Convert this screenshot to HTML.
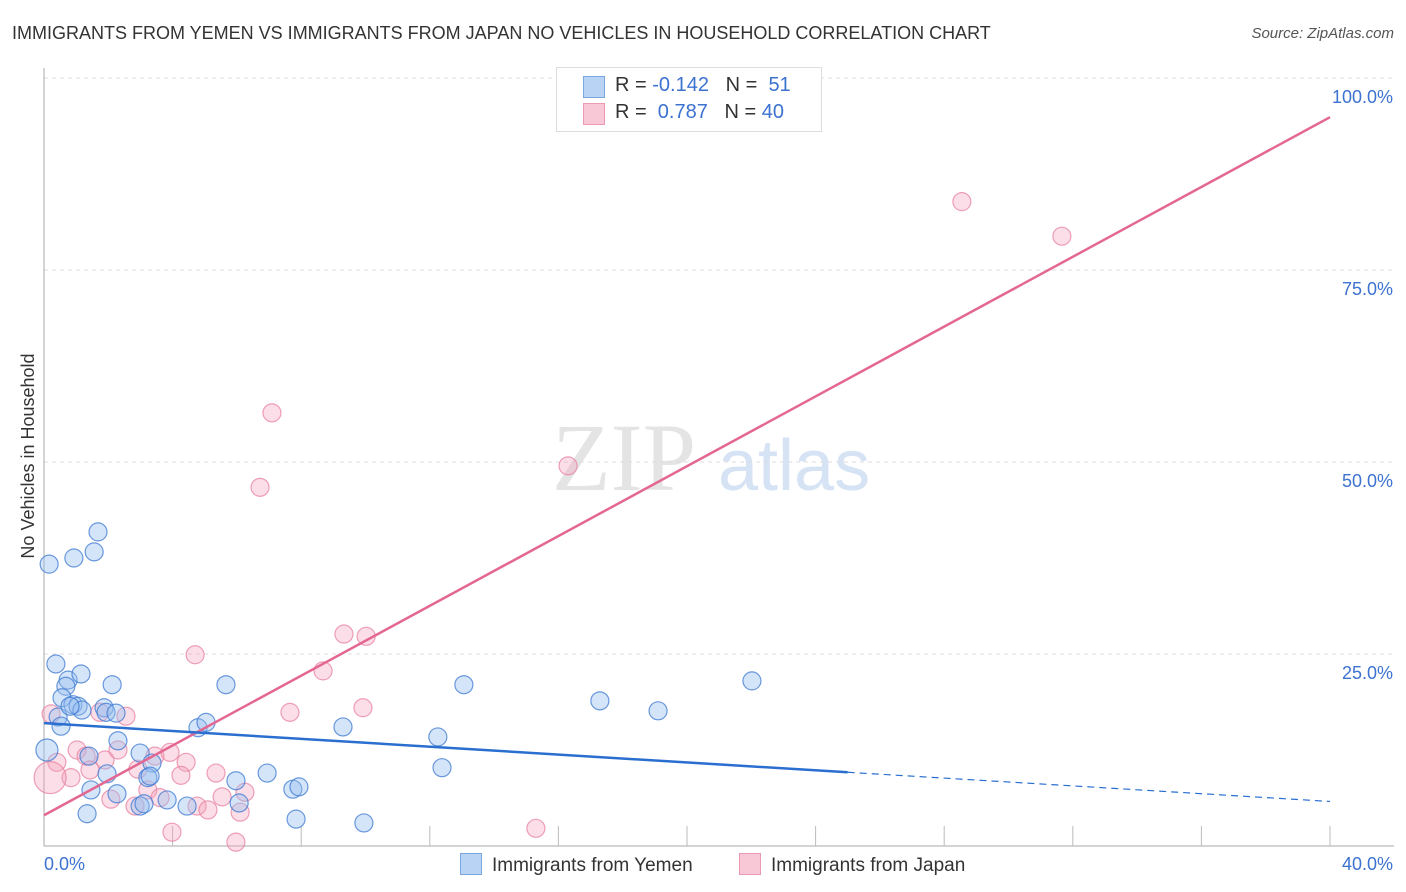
<!DOCTYPE html>
<html><head><meta charset="utf-8">
<style>
body{margin:0;background:#fff;font-family:"Liberation Sans",sans-serif;}
#wrap{position:relative;width:1406px;height:892px;overflow:hidden;}
.t{position:absolute;white-space:nowrap;}
</style></head>
<body>
<div id="wrap">
<div class="t" style="left:12px;top:23px;font-size:18px;color:#333;">IMMIGRANTS FROM YEMEN VS IMMIGRANTS FROM JAPAN NO VEHICLES IN HOUSEHOLD CORRELATION CHART</div>
<div class="t" style="right:12px;top:25px;font-size:15px;color:#555;font-style:italic;">Source: ZipAtlas.com</div>
<svg id="svg" width="1406" height="892" style="position:absolute;left:0;top:0"></svg>
</div>
<script>
const xTicks=[0,4,8,12,16,20,24,28,32,36,40];
const yTicks=[25,50,75,100];
const yTickLabels=["25.0%","50.0%","75.0%","100.0%"];
const xEndLabels=["0.0%","40.0%"];
const yemenX=[0.16,0.93,1.56,1.68,0.37,0.75,0.68,1.15,0.56,2.12,0.90,1.06,1.18,0.44,1.87,1.93,2.24,0.53,0.09,1.40,2.30,2.99,3.36,1.96,3.23,3.30,1.46,2.27,2.99,3.11,3.83,1.34,4.45,4.79,5.04,5.66,5.97,6.07,6.94,7.74,7.93,7.84,9.30,9.95,12.25,12.38,13.06,17.29,19.10,22.02,0.81];
const yemenY=[36.7,37.5,38.3,40.9,23.7,21.6,20.8,22.4,19.3,21.0,18.4,18.2,17.7,16.8,18.0,17.4,17.3,15.6,12.5,11.7,13.7,12.1,10.8,9.4,8.9,9.1,7.3,6.8,5.2,5.5,6.0,4.2,5.2,15.4,16.1,21.0,8.5,5.6,9.5,7.4,7.7,3.5,15.5,3.0,14.2,10.2,21.0,18.9,17.6,21.5,18.2];
const japanX=[28.55,31.66,7.09,6.72,16.30,9.33,10.02,4.70,8.68,7.65,9.92,0.22,1.74,2.55,1.03,1.31,0.40,0.84,1.43,0.19,1.90,2.30,3.45,3.92,4.42,2.92,4.26,5.35,3.23,3.61,2.08,2.83,5.54,6.25,4.76,5.10,6.10,3.98,5.97,15.30];
const japanY=[83.9,79.4,56.4,46.7,49.5,27.6,27.3,24.9,22.8,17.4,18.0,17.2,17.4,16.9,12.5,11.7,10.9,8.9,9.9,8.9,11.2,12.5,11.7,12.2,10.9,10.0,9.2,9.5,7.3,6.3,6.1,5.2,6.4,7.0,5.2,4.7,4.4,1.8,0.5,2.3];
const yemenTrend=[16.0,9.6,5.8]; // at x=0, 25, 40
const yemenTrendX=[0,25,40];
const japanTrend=[4.0,94.9];
const japanTrendX=[0,40];

const X=v=>44+v/40*1286, Y=v=>846-v/100*768;
const svg=document.getElementById('svg');
const NS='http://www.w3.org/2000/svg';
function mk(tag,attrs,parent){const e=document.createElementNS(NS,tag);for(const k in attrs)e.setAttribute(k,attrs[k]);(parent||svg).appendChild(e);return e;}
// watermark
let w=mk('text',{x:552,y:490,'font-size':96,'font-family':'Liberation Serif,serif',fill:'#e4e4e4'});w.textContent='ZIP';


let w2=mk('text',{x:718,y:490,'font-size':72,'font-family':'Liberation Sans,sans-serif',fill:'#d6e3f5'});w2.textContent='atlas';


// gridlines
yTicks.forEach((t,i)=>{
 const g=mk('line',{x1:44,x2:1394,y1:Y(t),y2:Y(t),stroke:'#ddd','stroke-dasharray':'4,4'});
 
 
 const l=mk('text',{x:1393,y:Y(t)+25,'text-anchor':'end','font-size':18,fill:'#3c72d0'});l.textContent=yTickLabels[i];
 
 
});
// axes
let ax=mk('line',{x1:44,x2:44,y1:68,y2:846,stroke:'#aaa'});


let bx=mk('line',{x1:44,x2:1394,y1:846,y2:846,stroke:'#aaa'});


xTicks.slice(1).forEach(t=>{const tk=mk('line',{x1:X(t),x2:X(t),y1:826,y2:846,stroke:'#bbb'});
 
 });
let xl0=mk('text',{x:44,y:870,'font-size':18,fill:'#3c72d0'});xl0.textContent=xEndLabels[0];


let xl1=mk('text',{x:1393,y:870,'text-anchor':'end','font-size':18,fill:'#3c72d0'});xl1.textContent=xEndLabels[1];


let yt=mk('text',{x:0,y:0,'font-size':18,fill:'#333',transform:'translate(34,456) rotate(-90)','text-anchor':'middle'});yt.textContent='No Vehicles in Household';


// points
japanX.forEach((x,i)=>{const c=mk('circle',{cx:X(x),cy:Y(japanY[i]),r:(i==19?16:9),fill:'rgba(244,160,185,0.35)',stroke:'rgba(232,130,160,0.75)','stroke-width':1.2});
 
 });
yemenX.forEach((x,i)=>{const c=mk('circle',{cx:X(x),cy:Y(yemenY[i]),r:(i==18?11:9),fill:'rgba(150,190,240,0.4)',stroke:'rgba(60,120,210,0.75)','stroke-width':1.2});
 
 });
// trends
let tl=mk('line',{x1:X(japanTrendX[0]),y1:Y(japanTrend[0]),x2:X(japanTrendX[1]),y2:Y(japanTrend[1]),stroke:'#e46792','stroke-width':2.5});


let ty=mk('line',{x1:X(yemenTrendX[0]),y1:Y(yemenTrend[0]),x2:X(yemenTrendX[1]),y2:Y(yemenTrend[1]),stroke:'#2a6fd0','stroke-width':2.5});


let td=mk('line',{x1:X(yemenTrendX[1]),y1:Y(yemenTrend[1]),x2:X(yemenTrendX[2]),y2:Y(yemenTrend[2]),stroke:'#2a6fd0','stroke-width':1.2,'stroke-dasharray':'7,5'});


</script>
<div class="t" style="left:556px;top:67px;width:264px;height:63px;border:1px solid #ddd;background:#fff;font-size:20px;color:#333;">
 <div style="position:absolute;left:26px;top:8px;width:20px;height:20px;background:#b9d3f5;border:1px solid #7aa6e2;"></div>
 <div style="position:absolute;left:58px;top:6px;">R = <span style="color:#3c72d0">-0.142</span>&nbsp;&nbsp;&nbsp;N = &nbsp;<span style="color:#3c72d0">51</span></div>
 <div style="position:absolute;left:26px;top:35px;width:20px;height:20px;background:#f9c8d6;border:1px solid #eb9ab4;"></div>
 <div style="position:absolute;left:58px;top:33px;">R = &nbsp;<span style="color:#3c72d0">0.787</span>&nbsp;&nbsp;&nbsp;N = <span style="color:#3c72d0">40</span></div>
</div>
<div class="t" style="left:460px;top:853px;font-size:19px;color:#333;"><span style="display:inline-block;width:20px;height:20px;background:#b9d3f5;border:1px solid #7aa6e2;vertical-align:-4px;margin-right:10px"></span>Immigrants from Yemen</div>
<div class="t" style="left:739px;top:853px;font-size:19px;color:#333;"><span style="display:inline-block;width:20px;height:20px;background:#f9c8d6;border:1px solid #eb9ab4;vertical-align:-4px;margin-right:10px"></span>Immigrants from Japan</div>
</body></html>
